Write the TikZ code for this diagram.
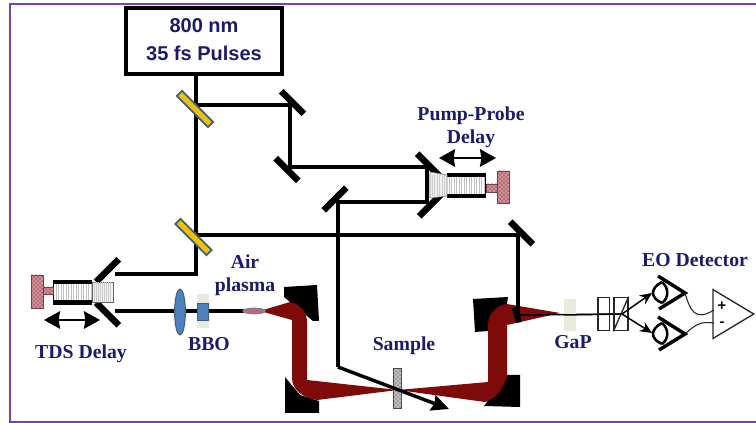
\documentclass[tikz,border=0pt]{standalone}
\usepackage{fontspec}
\setmainfont{Liberation Serif}
\newfontfamily\arialfont{Liberation Sans}
\usepackage{xcolor}
\usepackage{tikz}
\usetikzlibrary{arrows.meta,patterns,shapes.geometric}
\definecolor{expFrame}{HTML}{7B3FB5}
\definecolor{expNavy}{HTML}{1B1B6B}
\definecolor{expRed}{HTML}{7F0A0A}
\definecolor{expGold}{HTML}{F2C200}
\definecolor{expSlate}{HTML}{3F5F80}
\definecolor{expBlue}{HTML}{4F81BD}
\definecolor{expKnob}{HTML}{C06A78}
\definecolor{expCrystal}{HTML}{E9E9DC}
\tikzset{
  caption/.style={
    font=\bfseries\fontsize{14.8}{17}\selectfont,
    text=expNavy,
    inner sep=0pt,
    align=center
  },
  mirror/.style={
    rectangle,
    fill=black,
    inner sep=0pt,
    minimum width=24pt,
    minimum height=4.8pt
  },
  splitter/.style={
    rectangle,
    draw=expSlate,
    fill=expGold,
    line width=1.3pt,
    inner sep=0pt,
    minimum width=33pt,
    minimum height=5.4pt
  },
  plate/.style={
    rectangle,
    draw=black!85,
    line width=1pt,
    inner sep=0pt,
    minimum width=8.5pt,
    minimum height=25pt
  },
  beam/.style={line width=2.9pt, draw=black},
  thinbeam/.style={line width=1.1pt, draw=black},
  arrow/.style={-{Stealth[length=13pt,width=12pt,inset=1.5pt]}, line width=2.6pt, draw=black},
  stagearrow/.style={{Stealth[length=12pt,width=13pt,inset=1pt]}-{Stealth[length=12pt,width=13pt,inset=1pt]}, line width=2.2pt, draw=black},
  wire/.style={line width=0.8pt, draw=black!85},
  knob/.style={draw=expKnob!60!black, preaction={fill=expKnob!75}, pattern=crosshatch dots, pattern color=expRed!70!black, line width=0.6pt}
}

\begin{document}
\begin{tikzpicture}[x=0.75pt,y=-0.75pt]
  \useasboundingbox (0,0) rectangle (756,423);
  % frame
  \draw[expFrame, line width=1.6pt] (756,4) -- (10,4) -- (10,422) -- (756,422);

  % source
  \node[draw=black, line width=2.8pt, fill=white, minimum width=117pt, minimum height=49pt,
    inner sep=0pt, font=\arialfont\bfseries\fontsize{15}{21}\selectfont, text=expNavy, align=center]
    (laser) at (204,41) {\raisebox{1.5pt}{800 nm}\\\raisebox{1.5pt}{35 fs Pulses}};

  % optics
  \node[mirror, rotate=-45] (foldA) at (292.5,102.5) {};
  \node[mirror, rotate=-45] (foldB) at (287,169.5) {};
  \node[mirror, rotate=45] (foldC) at (335,199) {};
  \node[mirror, rotate=-45] (foldD) at (521.5,233) {};
  \node[mirror, rotate=-45] (pumpTop) at (428.5,165) {};
  \node[mirror, rotate=45] (pumpBot) at (430.5,205) {};
  \node[mirror, rotate=45] (tdsTop) at (107.5,270.5) {};
  \node[mirror, rotate=-45] (tdsBot) at (107.5,314) {};

  \coordinate (hitA) at (290,105);
  \coordinate (hitB) at (290,167);
  \coordinate (hitC) at (427,167);
  \coordinate (hitD) at (427,202);
  \coordinate (hitE) at (338,202);
  \coordinate (hitF) at (338,367);
  \coordinate (endProbe) at (449,409);
  \coordinate (hitG) at (196,105);
  \coordinate (hitH) at (196,235);
  \coordinate (hitJ) at (196,274);
  \coordinate (hitK) at (115,274);
  \coordinate (hitL) at (115,311);
  \coordinate (hitM) at (245,311);
  \coordinate (hitN) at (518,235);
  \coordinate (hitP) at (518,315);
  \coordinate (hitQ) at (622,314);
  \coordinate (laserOut) at (hitG |- laser.south);

  % parabolic mirrors
  \fill[black] (284,287) -- (317,285) -- (319,321) -- (313,321) -- (290,302) -- (284,297) -- cycle;
  \fill[black] (285,377) -- (285,413) -- (319,413) -- (319,401) -- (300,395) -- cycle;
  \fill[black] (473,299) -- (508,297) -- (507,304) -- (488,323) -- (488,331) -- (475,332) -- cycle;
  \fill[black] (484,406) -- (506,377) -- (506,375) -- (520,375) -- (520,407) -- cycle;

  % thz path
  \fill[expRed] (260,311) -- (290,302) .. controls (300,304) and (307,312) .. (307,322) -- (307,380)
    -- (398,390) -- (488,382) -- (488,325) .. controls (488,314) and (497,305) .. (507,304)
    -- (560,313) -- (507,325) -- (507,377) .. controls (501,392) and (495,399) .. (485,402)
    -- (398,390) -- (317,400) .. controls (303,398) and (292,390) .. (292,378) -- (292,320) -- cycle;

  % sample
  \node[rectangle, draw=black!70, fill=black!25, line width=0.6pt,
    inner sep=0pt, minimum width=6.5pt, minimum height=30pt] (sampleBack) at (397.5,388) {};
  \node[rectangle, pattern=crosshatch dots, pattern color=black!80,
    inner sep=0pt, minimum width=6pt, minimum height=29.5pt] (sample) at (397.5,388) {};

  % beams
  \draw[beam] (laserOut) -- (hitJ) -- (hitK);
  \draw[beam] (hitG) -- (hitA) -- (hitB) -- (hitC) -- (hitD) -- (hitE) -- (hitF);
  \draw[arrow] (hitF) -- (endProbe);
  \draw[beam] (hitH) -- (hitN) -- (hitP);
  \draw[beam] (hitL) -- (hitM);
  \draw[thinbeam] (hitP) -- (hitQ);
  \fill[black] (512,309) -- (517,306) -- (522,322) -- (516,323) -- cycle;

  % splitters on top of the main line
  \node[splitter, rotate=-45] (splitA) at (195,109) {};
  \node[splitter, rotate=-45] (splitB) at (193.5,237) {};

  % tds stage
  \fill[black] (53,280) rectangle (92,305);
  \fill[white] (54,284) rectangle (92,300);
  \foreach \x in {56,58.5,...,91} \draw[black!25, line width=0.4pt] (\x,284) -- (\x,300);
  \filldraw[fill=black!6, draw=black!60, line width=0.5pt] (92,282) rectangle (113,302);
  \foreach \x in {94,96,...,111} \draw[black!20, line width=0.4pt] (\x,282) -- (\x,302);
  \filldraw[knob] (43,287) rectangle (53,294);
  \filldraw[knob] (31,275) rectangle (43,308);
  \node[inner sep=0pt] (tdsLeft) at (43,320) {};
  \node[inner sep=0pt] (tdsRight) at (101,320) {};
  \draw[stagearrow] (tdsLeft) -- (tdsRight);

  % pump stage
  \fill[black] (447,173) rectangle (486,198);
  \fill[white] (447,177) rectangle (485,194);
  \foreach \x in {449,451.5,...,485} \draw[black!25, line width=0.4pt] (\x,177) -- (\x,194);
  \filldraw[fill=black!6, draw=black!50, line width=0.5pt] (430,172) -- (447,175) -- (447,196) -- (430,198) -- cycle;
  \foreach \x in {432,434.5,...,446} \draw[black!20, line width=0.4pt] (\x,175) -- (\x,196);
  \filldraw[knob] (486,184) rectangle (497,192);
  \filldraw[knob] (497,171) rectangle (509,203);
  \node[inner sep=0pt] (pumpLeft) at (438,158) {};
  \node[inner sep=0pt] (pumpRight) at (497,158) {};
  \draw[stagearrow] (pumpLeft) -- (pumpRight);

  % generation
  \node[ellipse, draw=expSlate, fill=expBlue, line width=0.8pt, inner sep=0pt,
    minimum width=8pt, minimum height=34.5pt] (lens) at (180,312) {};
  \node[rectangle, fill=expCrystal, inner sep=0pt, minimum width=9pt, minimum height=25pt] (bboBack) at (203,311) {};
  \node[rectangle, draw=expSlate, fill=expBlue, line width=0.8pt, inner sep=0pt,
    minimum width=8.5pt, minimum height=12.5pt] (bbo) at (203,312) {};
  \node[ellipse, fill=expKnob, draw=expBlue, line width=0.5pt, inner sep=0pt,
    minimum width=17pt, minimum height=4.5pt] (plasma) at (254,311) {};

  % detection
  \node[rectangle, fill=expCrystal, inner sep=0pt, minimum width=9pt, minimum height=24pt] (gap) at (570,315) {};
  \draw[thinbeam] (gap.west) -- (hitQ);
  \node[plate] (wave) at (603.5,314) {};
  \node[plate, minimum width=10.5pt] (prism) at (621,314) {};
  \draw[line width=1pt, black!85] (prism.south west) -- (prism.north east);

  \coordinate (eyeA) at (652,293);
  \coordinate (eyeB) at (652,333);
  \draw[-{Stealth[length=9pt,width=8pt]}, thinbeam] (hitQ) -- (eyeA);
  \draw[-{Stealth[length=9pt,width=8pt]}, thinbeam] (hitQ) -- (eyeB);

  \foreach \y/\n in {293/A,334/B} {
    \coordinate (tip\n) at (685,\y);
    \draw[black, line width=2.6pt] (658,\y-17) -- (tip\n) -- (659,\y+16);
    \draw[black, line width=1.9pt] (662,\y-11) .. controls (650,\y-5) and (650,\y+5) .. (662,\y+10);
    \draw[black, line width=1.9pt] (662,\y-11) .. controls (669,\y-5) and (669,\y+5) .. (662,\y+10);
  }

  \node[isosceles triangle, isosceles triangle apex angle=62, draw=black!85, fill=white, line width=1pt,
    inner sep=0pt, minimum height=30.5pt, minimum width=36.5pt, anchor=apex] (amp) at (755,314) {};
  \coordinate (ampPlus) at (714,310);
  \coordinate (ampMinus) at (714,323);
  \draw[wire] (tipA) .. controls (690,310) and (695,322) .. (ampPlus);
  \draw[wire] (tipB) .. controls (695,325) and (700,321) .. (ampMinus);
  \node[font=\arialfont\bfseries\fontsize{11}{11}\selectfont, inner sep=0pt] (plus) at (722,306) {+};
  \node[font=\arialfont\bfseries\fontsize{11}{11}\selectfont, inner sep=0pt] (minus) at (722,324) {-};

  % labels
  \node[caption] (pumpLabel) at (471,127) {Pump-Probe\\Delay};
  \node[caption] (tdsLabel) at (81,354) {TDS Delay};
  \node[caption] (bboLabel) at (209,344) {BBO};
  \node[caption] (airLabel) at (245,275) {Air\\plasma};
  \node[caption] (sampleLabel) at (404,346) {Sample};
  \node[caption] (gapLabel) at (573,342) {GaP};
  \node[caption] (eoLabel) at (695,260) {EO Detector};
\end{tikzpicture}
\end{document}
